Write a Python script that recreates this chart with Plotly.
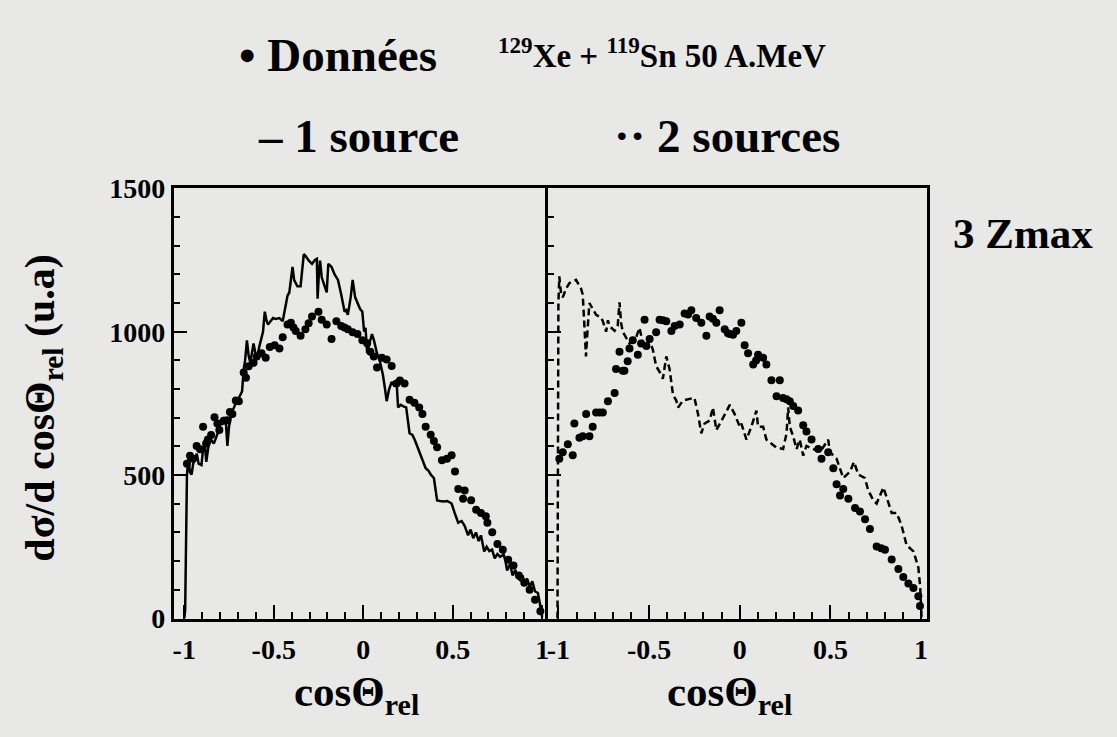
import plotly.graph_objects as go

# 1 source (solid line, left panel)
src1_x = [-1.00, -0.995, -0.985, -0.977, -0.968, -0.959, -0.95, -0.94, -0.93, -0.92, -0.904, -0.895, -0.886,
          -0.877, -0.865, -0.85, -0.835, -0.813, -0.80, -0.79, -0.777, -0.768, -0.759, -0.75, -0.735, -0.722,
          -0.71, -0.695, -0.677, -0.668, -0.66, -0.65, -0.64, -0.631, -0.62, -0.613, -0.604, -0.595, -0.58,
          -0.568, -0.56, -0.55, -0.541, -0.532, -0.515, -0.504, -0.49, -0.468, -0.45, -0.435, -0.423, -0.413,
          -0.404, -0.395, -0.386, -0.368, -0.35, -0.341, -0.332, -0.32, -0.304, -0.286, -0.27, -0.259, -0.255,
          -0.248, -0.241, -0.232, -0.223, -0.213, -0.204, -0.195, -0.186, -0.177, -0.16, -0.141, -0.123, -0.104,
          -0.095, -0.086, -0.07, -0.059, -0.045, -0.032, -0.018, -0.005, 0.005, 0.013, 0.022, 0.035, 0.049,
          0.06, 0.075, 0.095, 0.11, 0.122, 0.131, 0.145, 0.159, 0.175, 0.186, 0.195, 0.21, 0.225, 0.24, 0.259,
          0.275, 0.29, 0.313, 0.33, 0.349, 0.365, 0.38, 0.395, 0.413, 0.43, 0.45, 0.47, 0.494, 0.51, 0.531,
          0.55, 0.567, 0.586, 0.60, 0.615, 0.63, 0.645, 0.658, 0.676, 0.69, 0.705, 0.72, 0.735, 0.75, 0.765,
          0.785, 0.795, 0.804, 0.82, 0.835, 0.85, 0.865, 0.876, 0.89, 0.905, 0.915, 0.931, 0.945, 0.96, 0.976,
          0.985, 0.994, 1.0]
src1_y = [0, 30, 500, 557, 510, 502, 540, 557, 575, 540, 535, 590, 613,
          546, 600, 624, 610, 646, 690, 675, 702, 690, 602, 669, 720, 736,
          755, 769, 792, 870, 900, 970, 915, 892, 940, 959, 930, 903, 950,
          981, 1000, 1070, 1040, 1025, 1040, 1048, 1045, 1048, 1037, 1090, 1126, 1137,
          1190, 1226, 1180, 1159, 1159, 1220, 1271, 1262, 1248, 1237, 1250, 1254, 1115,
          1200, 1248, 1190, 1170, 1150, 1137, 1237, 1230, 1226, 1200, 1181, 1130, 1070,
          1075, 1059, 1120, 1181, 1120, 1103, 1080, 1070, 1000, 1014, 925, 960, 992,
          970, 930, 892, 850, 800, 758, 800, 825, 810, 830, 736, 745, 740, 736, 646,
          640, 620, 580, 550, 524, 515, 500, 490, 412, 410, 408, 410, 401, 370, 334,
          340, 323, 290, 310, 280, 300, 270, 290, 234, 250, 235, 240, 210, 225, 215,
          223, 200, 167, 190, 150, 170, 140, 134, 150, 120, 140, 111, 130, 95, 89,
          60, 33, 5]

# data points, left panel
data1_x = [-0.985, -0.968, -0.95, -0.931, -0.912, -0.895, -0.878, -0.868, -0.85, -0.831, -0.815, -0.804, -0.78,
           -0.759, -0.745, -0.731, -0.712, -0.695, -0.668, -0.655, -0.64, -0.613, -0.595, -0.568, -0.545, -0.522,
           -0.495, -0.468, -0.45, -0.423, -0.404, -0.39, -0.377, -0.35, -0.323, -0.305, -0.286, -0.25, -0.232,
           -0.204, -0.177, -0.15, -0.123, -0.105, -0.086, -0.059, -0.032, -0.005, 0.022, 0.04, 0.059, 0.077,
           0.104, 0.131, 0.159, 0.186, 0.205, 0.231, 0.259, 0.286, 0.313, 0.331, 0.349, 0.377, 0.395, 0.413,
           0.44, 0.468, 0.494, 0.513, 0.531, 0.558, 0.567, 0.603, 0.631, 0.658, 0.685, 0.694, 0.721, 0.75,
           0.78, 0.81, 0.84, 0.87, 0.9, 0.93, 0.96, 0.99]
data1_y = [540, 568, 557, 602, 590, 669, 610, 624, 640, 702, 680, 657, 690,
           691, 720, 713, 760, 758, 858, 840, 880, 892, 914, 925, 909, 947,
           953, 942, 981, 1025, 1031, 1015, 1003, 986, 1009, 1030, 1053, 1070, 1042,
           1025, 975, 1037, 1020, 1015, 1009, 998, 992, 970, 960, 930, 914, 875,
           909, 903, 881, 820, 830, 820, 763, 752, 736, 713, 669, 641, 619, 597,
           552, 557, 569, 513, 452, 418, 446, 412, 379, 368, 357, 334, 301, 260,
           240, 205, 185, 150, 125, 100, 65, 25]

# 2 sources (dashed line, right panel)
src2_x = [-1.005, -1.0, -0.995, -0.985, -0.976, -0.958, -0.939, -0.925, -0.903, -0.875, -0.866, -0.857, -0.848,
          -0.84, -0.829, -0.811, -0.792, -0.765, -0.755, -0.737, -0.727, -0.718, -0.70, -0.69, -0.673, -0.663,
          -0.654, -0.645, -0.627, -0.608, -0.58, -0.571, -0.553, -0.534, -0.516, -0.497, -0.479, -0.461, -0.442,
          -0.424, -0.405, -0.387, -0.368, -0.35, -0.34, -0.313, -0.276, -0.25, -0.23, -0.212, -0.194, -0.166,
          -0.148, -0.129, -0.092, -0.055, -0.028, 0.0, 0.009, 0.037, 0.064, 0.092, 0.101, 0.129, 0.147, 0.202,
          0.239, 0.258, 0.267, 0.276, 0.295, 0.313, 0.331, 0.35, 0.368, 0.405, 0.442, 0.488, 0.497, 0.534,
          0.571, 0.608, 0.63, 0.654, 0.69, 0.709, 0.737, 0.755, 0.792, 0.81, 0.838, 0.866, 0.893, 0.92, 0.958,
          0.985, 0.995, 1.0, 1.003]
src2_y = [0, 1100, 1193, 1130, 1120, 1150, 1170, 1175, 1181, 1150, 1130, 1025, 914,
          1000, 1100, 1080, 1059, 1050, 1037, 1000, 1040, 1020, 1010, 1003, 1020, 1103,
          1030, 1000, 980, 959, 980, 981, 1014, 959, 947, 970, 937, 880, 860,
          836, 914, 870, 780, 760, 736, 760, 766, 770, 713, 646, 680, 690,
          736, 657, 700, 745, 713, 669, 680, 624, 669, 725, 669, 669, 624, 596,
          591, 645, 736, 669, 635, 591, 624, 568, 602, 591, 580, 624, 580, 557,
          490, 512, 546, 502, 490, 446, 412, 401, 457, 423, 368, 368, 323, 256, 234,
          178, 111, 44, 0]

# data points, right panel
data2_x = [-0.995, -0.976, -0.948, -0.921, -0.912, -0.884, -0.866, -0.847, -0.829, -0.811, -0.792, -0.773, -0.755,
           -0.727, -0.69, -0.682, -0.663, -0.645, -0.636, -0.618, -0.608, -0.59, -0.562, -0.544, -0.525, -0.515,
           -0.497, -0.461, -0.442, -0.424, -0.405, -0.377, -0.359, -0.331, -0.304, -0.285, -0.267, -0.24, -0.212,
           -0.184, -0.166, -0.148, -0.129, -0.111, -0.083, -0.065, -0.055, -0.037, -0.019, 0.009, 0.027, 0.046,
           0.074, 0.09, 0.101, 0.129, 0.147, 0.175, 0.203, 0.221, 0.239, 0.258, 0.276, 0.295, 0.322, 0.35, 0.368,
           0.396, 0.433, 0.451, 0.488, 0.516, 0.534, 0.553, 0.571, 0.599, 0.636, 0.663, 0.691, 0.718, 0.755,
           0.78, 0.801, 0.838, 0.875, 0.902, 0.93, 0.958, 0.985, 0.994]
data2_y = [557, 580, 608, 569, 680, 630, 636, 713, 636, 669, 718, 718, 718,
           758, 786, 870, 930, 864, 864, 897, 942, 970, 920, 959, 1042, 950,
           975, 998, 1042, 1040, 1037, 1003, 1020, 1025, 1064, 1060, 1075, 1048, 1031,
           986, 1053, 1045, 1031, 1075, 1009, 995, 992, 990, 1003, 1031, 953, 925,
           886, 900, 920, 909, 886, 831, 775, 831, 769, 765, 758, 741, 725, 674, 652,
           624, 591, 557, 580, 524, 468, 429, 452, 418, 385, 373, 346, 312, 251,
           245, 240, 206, 173, 145, 122, 106, 78, 44]

x_tickvals = [-1, -0.5, 0, 0.5, 1]
x_ticktext = ["-1", "-0.5", "0", "0.5", "1"]
y_tickvals = [0, 500, 1000, 1500]
y_ticktext = ["0", "500", "1000", "1500"]

W, H = 1117, 737
FONT = "Liberation Serif"
BG = "#e8e8e6"


def fx(p):
    return p / W


def fy(p):
    return 1 - p / H


fig = go.Figure()
fig.add_trace(go.Scatter(x=src1_x, y=src1_y, mode="lines", line=dict(color="black", width=2.5),
                         xaxis="x", yaxis="y"))
fig.add_trace(go.Scatter(x=data1_x, y=data1_y, mode="markers", marker=dict(color="black", size=8),
                         xaxis="x", yaxis="y"))
fig.add_trace(go.Scatter(x=src2_x, y=src2_y, mode="lines",
                         line=dict(color="black", width=2.5, dash="7px,4px"),
                         xaxis="x2", yaxis="y2"))
fig.add_trace(go.Scatter(x=data2_x, y=data2_y, mode="markers", marker=dict(color="black", size=8),
                         xaxis="x2", yaxis="y2"))

tickfont = dict(family=FONT, size=28, color="black", weight="bold")
xax = dict(range=[-1.06, 1.03], tickmode="array", tickvals=x_tickvals, ticktext=x_ticktext,
           ticks="inside", ticklen=14, tickwidth=2, ticklabelstandoff=4,
           tickcolor="black", showline=True, linecolor="black", linewidth=2.5, mirror=True,
           showgrid=False, zeroline=False, tickfont=tickfont,
           minor=dict(tick0=0, dtick=0.1, ticks="inside", ticklen=7, tickwidth=1.5, tickcolor="black"))
yax = dict(range=[0, 1500], tickmode="array", tickvals=y_tickvals, ticktext=y_ticktext,
           ticks="inside", ticklen=14, tickwidth=2, tickcolor="black",
           showline=True, linecolor="black", linewidth=2.5, showgrid=False, zeroline=False,
           tickfont=tickfont,
           minor=dict(tick0=0, dtick=100, ticks="inside", ticklen=7, tickwidth=1.5, tickcolor="black"))

fig.update_layout(
    width=W, height=H, margin=dict(l=0, r=0, t=0, b=0),
    paper_bgcolor=BG, plot_bgcolor=BG, showlegend=False,
    xaxis=dict(xax, domain=[fx(173), fx(548)], anchor="y"),
    xaxis2=dict(xax, domain=[fx(548), fx(928)], anchor="y2"),
    yaxis=dict(yax, domain=[fy(630), fy(181)], anchor="x", mirror=False),
    yaxis2=dict(yax, domain=[fy(630), fy(181)], anchor="x2", matches="y", showticklabels=False, mirror=True),
)

texts = [
    ("\u2022 Donn\u00e9es", 338, 42, 47),
    ("<sup>129</sup>Xe + <sup>119</sup>Sn 50 A.MeV", 663, 40, 33),
    ("\u2013 1 source", 358, 126, 47),
    ("\u00b7\u00b7 2 sources", 728, 126, 47),
    ("3 Zmax", 1025, 228, 43),
    ("cos\u0398<sub>rel</sub>", 356, 710, 43),
    ("cos\u0398<sub>rel</sub>", 730, 710, 43),
]
for t, x, y, s in texts:
    fig.add_annotation(text=t, x=fx(x), y=fy(y), xref="paper", yref="paper", showarrow=False,
                       xanchor="center", yanchor="middle",
                       font=dict(family=FONT, size=s, color="black", weight="bold"))

fig.add_annotation(text="d\u03c3/d cos\u0398<sub>rel</sub> (u.a)", x=fx(42), y=fy(410), xref="paper",
                   yref="paper", showarrow=False, textangle=-90, xanchor="center", yanchor="middle",
                   font=dict(family=FONT, size=42, color="black", weight="bold"))

fig.write_html("out.html", config={"displayModeBar": False},
               post_script="document.body.style.margin='0';")
